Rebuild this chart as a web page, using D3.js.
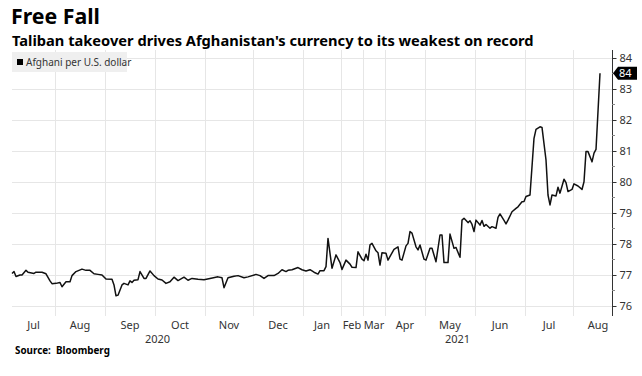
<!DOCTYPE html>
<html>
<head>
<meta charset="utf-8">
<script src="https://cdn.jsdelivr.net/npm/d3@7"></script>
<style>
  html, body { margin: 0; padding: 0; background: #fff; }
  svg { display: block; }
  text { font-family: "Noto Sans", "DejaVu Sans", sans-serif; }
</style>
</head>
<body>
<svg id="chart" width="642" height="376"></svg>
<script>
// ---------------- DATA ----------------
const titleText = "Free Fall";
const subtitleText = "Taliban takeover drives Afghanistan's currency to its weakest on record";
const seriesName = "Afghani per U.S. dollar";
const sourceText = "Source:  Bloomberg";

// trading-session number (Bloomberg plots by observation, gaps collapsed)
const session = [0,1,2,4,5,7,8,11,12,15,17,19,20,22,24,25,27,29,30,32,35,37,39,41,43,45,47,50,51,52,53,55,56,58,59,60,61,63,64,66,67,69,71,73,75,77,79,81,83,86,88,90,93,96,99,103,105,106,108,111,113,116,118,122,124,126,128,131,133,135,137,138,140,143,145,147,149,151,153,154,156,157,158,160,162,164,165,167,169,170,172,173,175,176,177,178,179,180,182,183,184,185,187,188,191,193,194,195,197,198,199,200,202,203,204,206,207,209,210,212,214,215,216,218,219,221,222,224,225,226,228,229,230,231,232,234,235,236,237,239,240,242,243,244,246,247,248,250,252,253,255,256,257,259,261,262,264,265,267,268,269,270,272,273,274,276,277,278,280,281,283,285,286,287,288,290,291,292,294];
// afghani per U.S. dollar
const rate = [77.05,77.11,76.95,77.00,77.00,77.15,77.09,77.05,77.09,77.09,77.04,76.81,76.72,76.73,76.76,76.62,76.78,76.78,76.98,77.11,77.19,77.15,77.15,77.04,77.02,77.00,76.87,76.86,76.68,76.33,76.35,76.68,76.73,76.68,76.81,76.76,76.83,76.85,77.11,76.89,76.89,77.13,76.98,76.87,76.84,76.73,76.78,76.93,76.82,76.93,76.83,76.89,76.86,76.85,76.89,76.94,76.91,76.59,76.91,76.96,76.98,76.91,76.94,77.02,76.98,76.89,76.98,76.98,77.05,77.17,77.11,77.15,77.17,77.24,77.17,77.13,77.17,77.09,77.03,77.14,77.14,77.27,78.18,77.22,77.65,77.40,77.18,77.48,77.35,77.25,77.24,77.75,77.51,77.46,77.67,77.48,77.97,78.02,77.78,77.72,77.32,77.72,77.70,77.48,77.83,77.91,77.51,77.48,77.94,78.02,78.40,78.35,77.91,77.81,77.97,77.51,77.48,77.86,77.86,77.43,78.29,78.29,77.40,77.40,78.32,77.86,77.89,77.57,78.77,78.83,78.69,78.75,78.63,78.40,78.77,78.61,78.76,78.57,78.63,78.51,78.56,78.51,78.86,78.97,78.76,78.65,78.77,79.04,79.15,79.20,79.36,79.37,79.53,79.58,81.41,81.70,81.78,81.76,80.71,79.58,79.26,79.58,79.55,79.83,79.64,80.09,79.98,79.69,79.76,79.94,79.87,79.76,80.01,80.98,80.98,80.65,80.93,81.05,83.51];

const monthLabels = ["Jul","Aug","Sep","Oct","Nov","Dec","Jan","Feb","Mar","Apr","May","Jun","Jul","Aug"];
const monthFirstSession = [0,22,47,72,97,121,146,165,176,187,207,232,257,281];
const yearLabels = ["2020","2021"];
const yearFirstMonth = [0,6];
const yTicks = [76,77,78,79,80,81,82,83,84];
const yMinorTicks = [76.5,77.5,78.5,79.5,80.5,81.5,82.5,83.5];

// ---------------- LAYOUT ----------------
const W = 642, H = 376;
const plotLeft = 12, lineRight = 600, axisX = 612;
const plotTop = 50, plotBottom = 316;
const typicalMonth = 25; // sessions

const svg = d3.select("#chart");
const data = session.map((s, i) => ({ s, v: rate[i] }));

const x = d3.scaleLinear().domain([0, d3.max(session)]).range([plotLeft, lineRight]);
const y = d3.scaleLinear().domain([76, 84]).range([306, 58]);

const gridColor = "#e6e6e6";
const textColor = "#333";

// gridlines - horizontal
svg.append("g").selectAll("line").data(yTicks).join("line")
  .attr("x1", plotLeft).attr("x2", axisX)
  .attr("y1", d => Math.round(y(d)) + 0.5).attr("y2", d => Math.round(y(d)) + 0.5)
  .attr("stroke", gridColor).attr("stroke-width", 1);

// month boundaries
const boundaries = monthFirstSession.slice(1).map(s => x(s - 0.5));
svg.append("g").selectAll("line").data(boundaries).join("line")
  .attr("x1", d => Math.round(d) + 0.5).attr("x2", d => Math.round(d) + 0.5)
  .attr("y1", plotTop).attr("y2", plotBottom)
  .attr("stroke", gridColor).attr("stroke-width", 1);

// legend
const lg = svg.append("g");
lg.append("rect").attr("x", 12).attr("y", 52).attr("width", 115).attr("height", 20).attr("fill", "#efefef");
lg.append("rect").attr("x", 17).attr("y", 59).attr("width", 6).attr("height", 6).attr("fill", "#000");
lg.append("text").attr("x", 26).attr("y", 65.5).attr("font-size", 10).attr("fill", textColor).text(seriesName);

// line
svg.append("path").datum(data)
  .attr("fill", "none").attr("stroke", "#111").attr("stroke-width", 1.5)
  .attr("stroke-linejoin", "round")
  .attr("d", d3.line().x(d => x(d.s)).y(d => y(d.v)));

// right axis
const axis = d3.axisRight(y).tickValues(yTicks).tickSize(4).tickPadding(3).tickFormat(d3.format("d"));
const ag = svg.append("g").attr("transform", `translate(${axisX + 0.5},0)`).call(axis);
ag.select(".domain").remove();
ag.selectAll(".tick line").attr("stroke", textColor);
ag.selectAll(".tick text").attr("fill", textColor).attr("font-size", 11)
  .attr("font-family", "'Noto Sans', sans-serif");
svg.append("line").attr("x1", axisX + 0.5).attr("x2", axisX + 0.5)
  .attr("y1", plotTop).attr("y2", plotBottom).attr("stroke", textColor);
svg.append("g").selectAll("line").data(yMinorTicks).join("line")
  .attr("x1", axisX).attr("x2", axisX + 3)
  .attr("y1", d => y(d)).attr("y2", d => y(d)).attr("stroke", "#888");

// last value tag
const last = data[data.length - 1];
const ty = y(last.v);
svg.append("path")
  .attr("d", `M${axisX + 1},${ty} L${axisX + 6},${ty - 6.5} L${axisX + 25},${ty - 6.5} L${axisX + 25},${ty + 6.5} L${axisX + 6},${ty + 6.5} Z`)
  .attr("fill", "#000");
svg.append("text").attr("x", axisX + 7).attr("y", ty + 4).attr("font-size", 11).attr("fill", "#fff")
  .text(d3.format("d")(Math.round(last.v)));

// month labels
const monthLabelG = svg.append("g");
monthLabels.forEach((m, i) => {
  const start = i === 0 ? plotLeft : x(monthFirstSession[i] - 0.5);
  const end = i < monthLabels.length - 1 ? x(monthFirstSession[i + 1] - 0.5)
                                          : start + (x(typicalMonth) - x(0));
  monthLabelG.append("text").attr("x", (start + end) / 2).attr("y", 329)
    .attr("text-anchor", "middle").attr("font-size", 11).attr("fill", textColor).text(m);
});
// year labels
yearLabels.forEach((yl, i) => {
  const mi = yearFirstMonth[i];
  const start = mi === 0 ? plotLeft : x(monthFirstSession[mi] - 0.5);
  const end = i < yearLabels.length - 1 ? x(monthFirstSession[yearFirstMonth[i + 1]] - 0.5) : axisX;
  svg.append("text").attr("x", (start + end) / 2).attr("y", 342.5)
    .attr("text-anchor", "middle").attr("font-size", 11).attr("fill", textColor).text(yl);
});

// titles
function fitText(sel, target) {
  const w = sel.node().getComputedTextLength();
  const fs = parseFloat(sel.attr("font-size"));
  sel.attr("font-size", fs * target / w);
}
const t1 = svg.append("text").attr("x", 11).attr("y", 24).attr("font-size", 21)
  .attr("font-weight", "bold").attr("fill", "#000").text(titleText);
fitText(t1, 89);
const t2 = svg.append("text").attr("x", 12).attr("y", 46).attr("font-size", 15)
  .attr("font-weight", "bold").attr("fill", "#000").text(subtitleText);
fitText(t2, 522);
const src = svg.append("text").attr("x", 15).attr("y", 354).attr("font-size", 10)
  .attr("font-weight", "bold").attr("fill", "#000").attr("xml:space", "preserve").text(sourceText);
fitText(src, 95);
</script>
</body>
</html>
